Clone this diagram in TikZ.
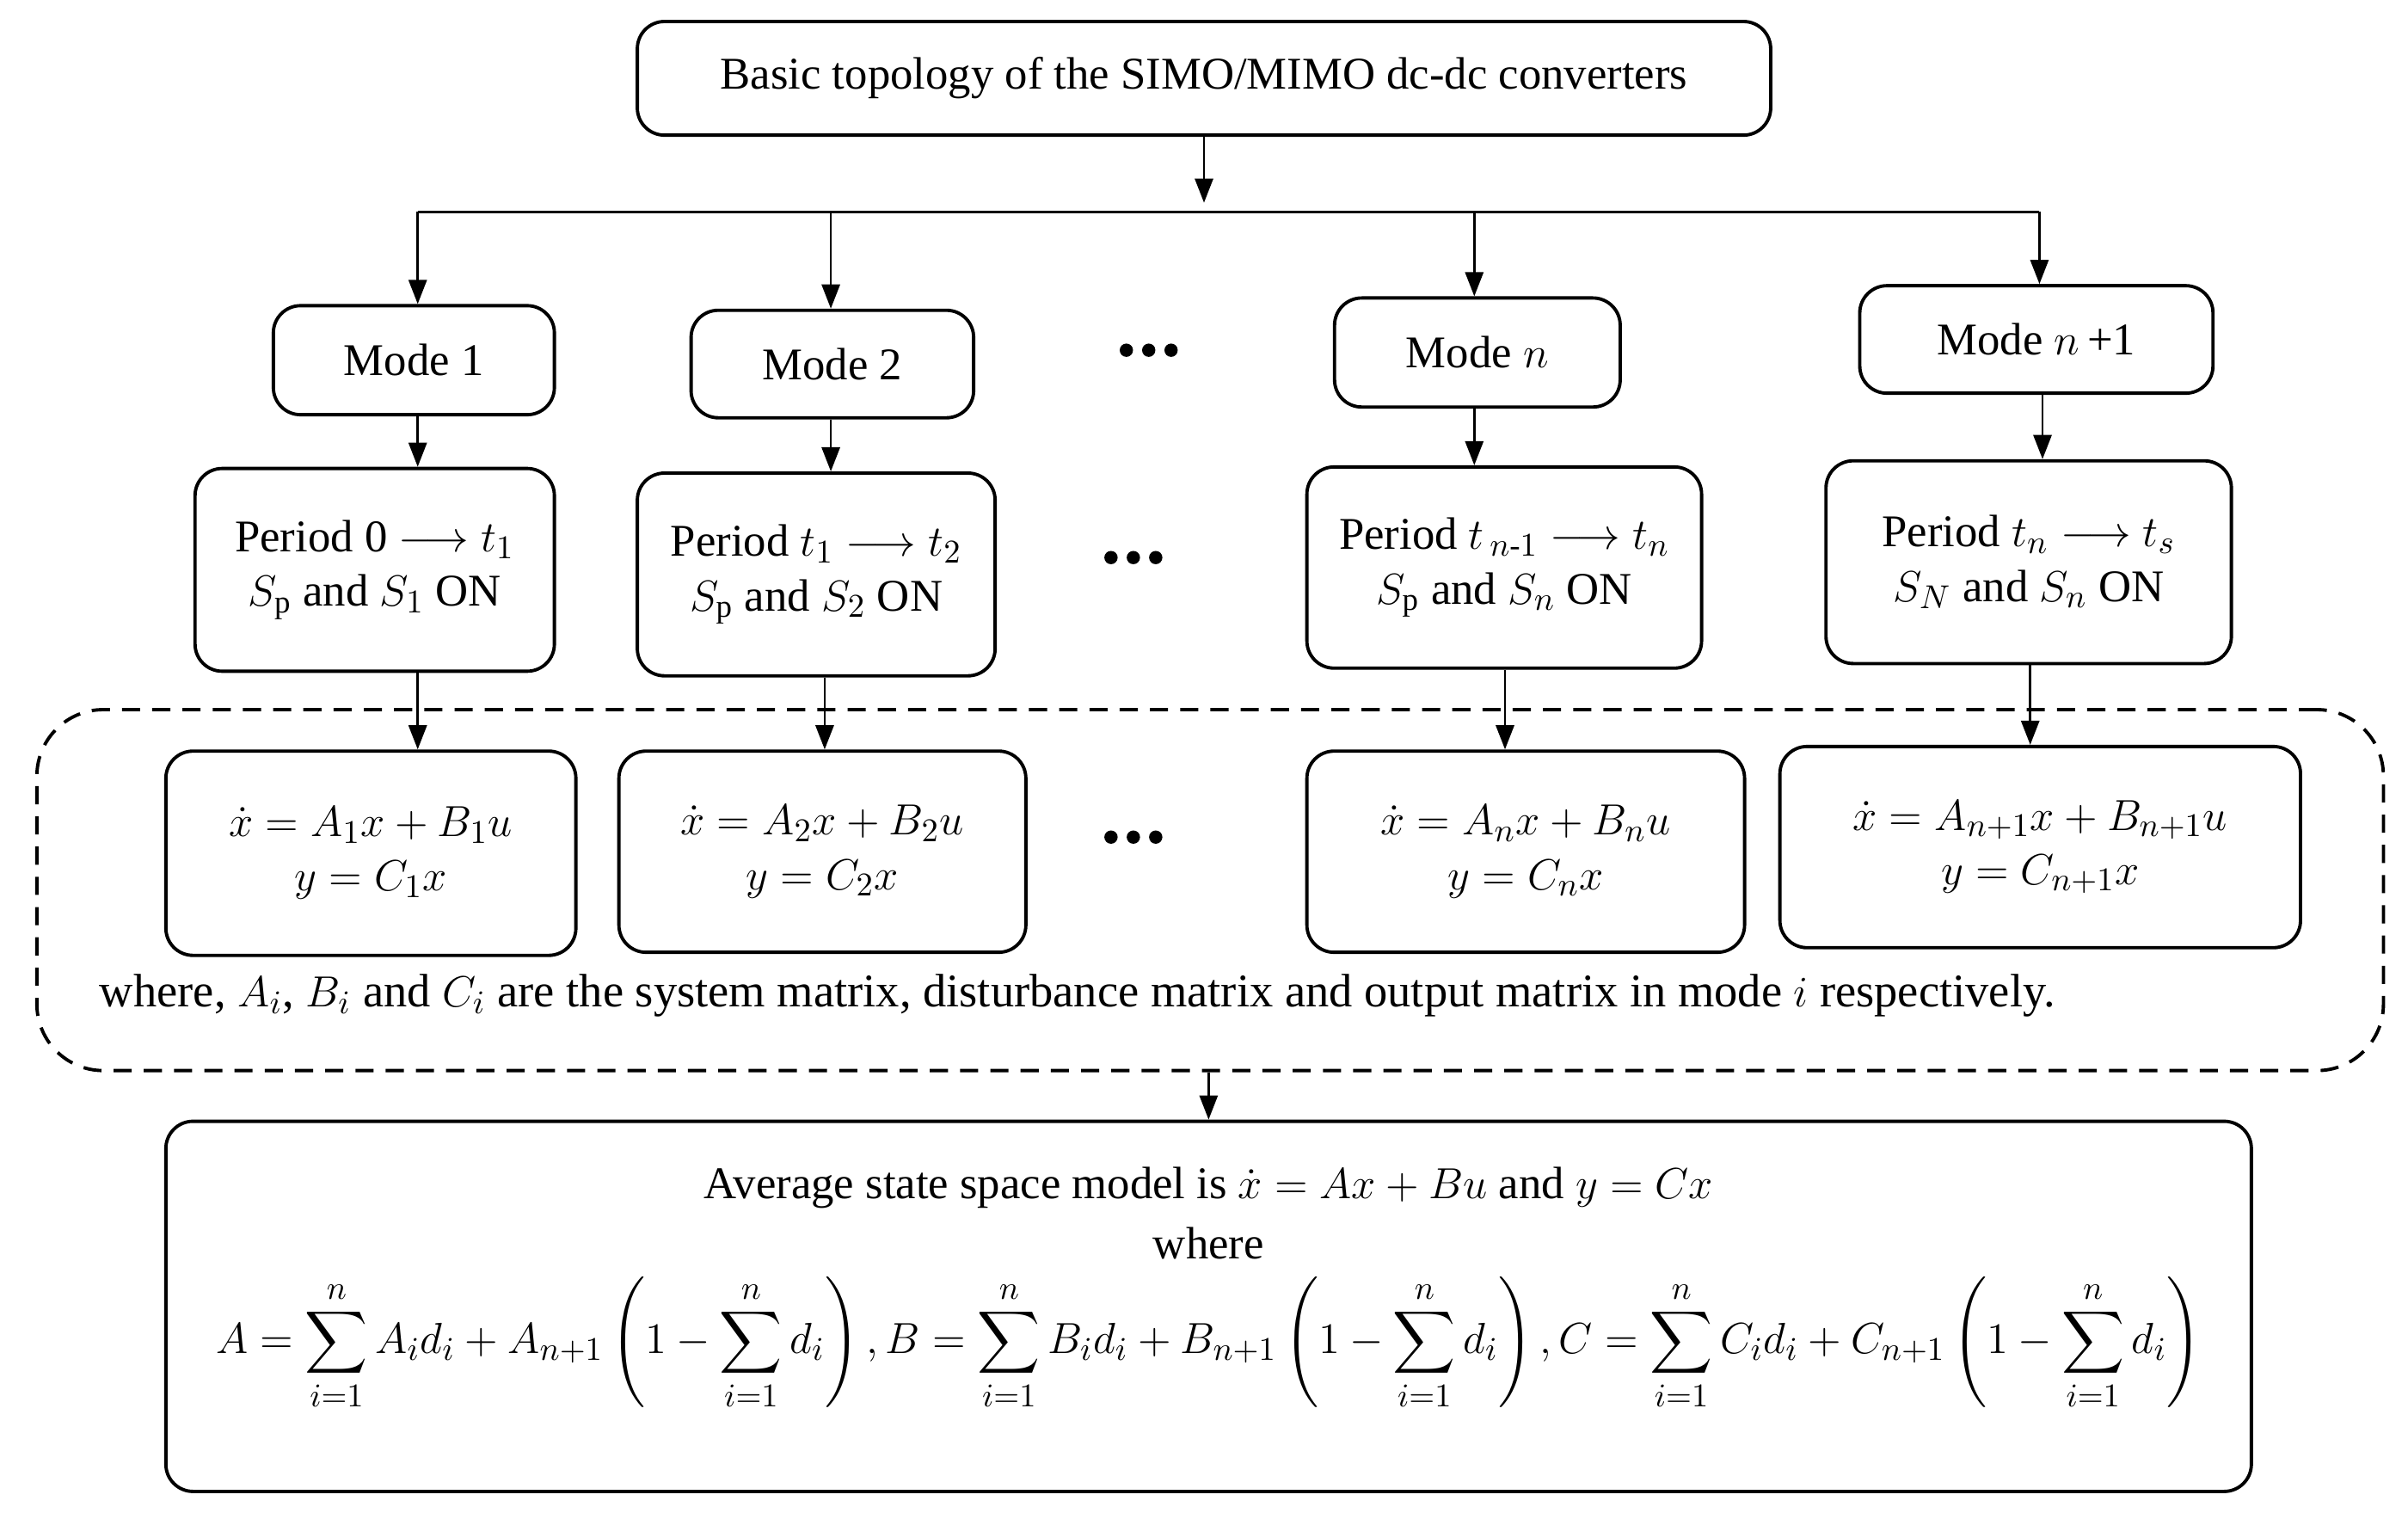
\documentclass[tikz,border=0pt]{standalone}
\usepackage{amsmath}
\usepackage{fontspec}
\setmainfont{Liberation Serif}
\usetikzlibrary{arrows.meta}
\newcommand\bx[6]{\node[box,minimum width={(#3-#2)*0.01786cm},minimum height={(#5-#4)*0.01786cm}] (#1) at ({(#2+#3)/2},{(#4+#5)/2}) {#6};}
\newcommand\mydots{\tikz[baseline]{\foreach \k in {0,1,2} \fill (\k*0.26cm,0) circle (2.2pt);}}
\begin{document}
\begin{tikzpicture}[x=0.01786cm,y=-0.01786cm,
  box/.style={draw,line width=1.1pt,rounded corners=9pt,align=center,inner sep=0pt,font=\fontsize{15}{18}\selectfont},
  arr/.style={line width=0.8pt,-{Triangle[length=8pt,width=6pt]}},
  ln/.style={line width=0.8pt}]
\useasboundingbox (0,0) rectangle (1568,985);
\node[draw,dash pattern=on 6pt off 4pt,line width=1.1pt,rounded corners=22pt,minimum width={1528*0.01786cm},minimum height={235*0.01786cm}] (dash) at (788,579.5) {};
\bx{top}{415}{1153}{14}{88}{Basic topology of the SIMO/MIMO dc-dc converters}
\bx{m1}{178}{361}{199}{270}{Mode 1}
\bx{m2}{450}{634}{202}{272}{Mode 2}
\bx{mn}{869}{1055}{194}{265}{Mode $n$}
\bx{mn1}{1211}{1441}{186}{256}{Mode $n$\,+1}
\bx{p1}{127}{361}{305}{437}{Period 0 $\longrightarrow t_1$\\$S_{\mathrm p}$ and $S_1$ ON}
\bx{p2}{415}{648}{308}{440}{Period $t_1\longrightarrow t_2$\\$S_{\mathrm p}$ and $S_2$ ON}
\bx{pn}{851}{1108}{304}{435}{Period $t_{\,n\text{-}1}\longrightarrow t_n$\\$S_{\mathrm p}$ and $S_n$ ON}
\bx{pn1}{1189}{1453}{300}{432}{Period $t_n\longrightarrow t_s$\\$S_N$ and $S_n$ ON}
\bx{e1}{108}{375}{489}{622}{$\dot x = A_1x+B_1u$\\$y=C_1x$}
\bx{e2}{403}{668}{489}{620}{$\dot x = A_2x+B_2u$\\$y=C_2x$}
\bx{en}{851}{1136}{489}{620}{$\dot x = A_nx+B_nu$\\$y=C_nx$}
\bx{en1}{1159}{1498}{486}{617}{$\dot x = A_{n+1}x+B_{n+1}u$\\$y=C_{n+1}x$}
\bx{bot}{108}{1466}{730}{971}{}
\node[font=\fontsize{15.5}{18}\selectfont,anchor=west] (where) at (58,648) {where, $A_i$, $B_i$ and $C_i$ are the system matrix, disturbance matrix and output matrix in mode $i$ respectively.};
\node[font=\fontsize{15}{20}\selectfont,align=center] (avg) at (787,790) {Average state space model is $\dot x = Ax+Bu$ and $y=Cx$\\where};
\node[font=\fontsize{15}{18}\selectfont] (formula) at (787,875) {$\displaystyle A=\sum_{i=1}^{n}A_id_i+A_{n+1}\left(1-\sum_{i=1}^{n}d_i\right),B=\sum_{i=1}^{n}B_id_i+B_{n+1}\left(1-\sum_{i=1}^{n}d_i\right),C=\sum_{i=1}^{n}C_id_i+C_{n+1}\left(1-\sum_{i=1}^{n}d_i\right)$};
\node (d1) at (748,228) {\mydots};
\node (d2) at (738,363) {\mydots};
\node (d3) at (738,545) {\mydots};
\draw[arr] (top.south) -- (784,132);
\draw[ln] (272,138) -- (1328,138);
\draw[arr] (272,138) -- (m1.north -| 272,0);
\draw[arr] (541,138) -- (m2.north -| 541,0);
\draw[arr] (960,138) -- (mn.north -| 960,0);
\draw[arr] (1328,138) -- (mn1.north -| 1328,0);
\draw[arr] (m1.south -| 272,0) -- (p1.north -| 272,0);
\draw[arr] (m2.south -| 541,0) -- (p2.north -| 541,0);
\draw[arr] (mn.south -| 960,0) -- (pn.north -| 960,0);
\draw[arr] (mn1.south -| 1330,0) -- (pn1.north -| 1330,0);
\draw[arr] (p1.south -| 272,0) -- (e1.north -| 272,0);
\draw[arr] (p2.south -| 537,0) -- (e2.north -| 537,0);
\draw[arr] (pn.south -| 980,0) -- (en.north -| 980,0);
\draw[arr] (pn1.south -| 1322,0) -- (en1.north -| 1322,0);
\draw[arr] (dash.south -| 787,0) -- (bot.north -| 787,0);
\end{tikzpicture}
\end{document}
